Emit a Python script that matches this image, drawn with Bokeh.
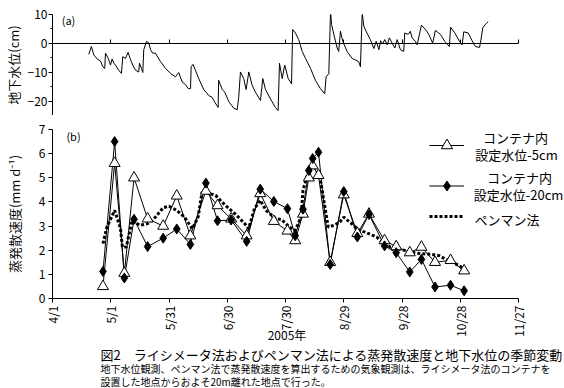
import numpy as np
from bokeh.plotting import figure
from bokeh.models import FixedTicker, Range1d, Label, Legend, LegendItem
from bokeh.layouts import column
from bokeh.embed import file_html
from bokeh.resources import INLINE

FONT = "Noto Sans CJK JP"

# x: days after 1 April 2005
tick_days = [0, 30, 60, 90, 120, 150, 180, 210, 240]
tick_labels = ["4/1", "5/1", "5/31", "6/30", "7/30", "8/29", "9/28", "10/28", "11/27"]

# (a) groundwater level (cm)
gw_day = [18.7, 20.0, 21.3, 23.0, 24.7, 25.9, 26.9, 27.3, 28.7, 29.9, 30.7, 31.6, 32.4, 34.1, 35.5,
          36.2, 37.6, 38.9, 40.2, 41.3, 42.7, 44.4, 44.8, 45.8, 46.5, 47.0, 48.4, 49.6, 50.5, 51.6,
          53.0, 55.6, 58.2, 60.8, 63.3, 65.0, 66.8, 68.5, 69.9, 71.1, 71.4, 72.4, 73.6, 75.3, 77.9,
          80.5, 82.2, 83.6, 85.3, 85.6, 87.4, 88.7, 90.8, 93.4, 95.1, 95.9, 96.8, 98.5, 99.7, 101.1,
          102.8, 104.5, 107.1, 108.3, 109.7, 112.3, 114.8, 116.2, 116.9, 118.3, 119.6, 121.4, 123.1,
          123.7, 125.1, 126.8, 128.6, 130.3, 132.9, 135.4, 138.0, 140.2, 140.9, 142.3, 143.2, 143.7,
          144.9, 146.6, 147.4, 148.3, 149.5, 151.7, 154.3, 157.7, 158.6, 159.5, 160.3, 161.5, 163.7,
          165.5, 166.7, 168.1, 169.0, 170.1, 171.1, 172.4, 173.5, 174.9, 176.3, 177.5, 179.2, 180.9,
          181.4, 183.2, 184.3, 185.2, 186.9, 187.8, 190.0, 192.1, 193.8, 195.8, 197.2, 199.8, 202.0,
          204.4, 205.0, 207.2, 209.6, 211.0, 211.8, 214.1, 216.1, 217.8, 219.9, 220.4, 221.6, 223.0,
          224.4]
gw_cm = [-3.8, -1.1, -4.0, -5.4, -6.1, -8.1, -8.7, -3.4, -5.2, -7.5, -5.4, -6.9, -7.5, -9.3, -10.4,
         -4.6, -5.2, -3.1, -5.7, -7.5, -9.3, -9.9, -6.9, -8.7, -10.1, -2.2, 0.7, 0.1, -2.2, -3.4,
         -3.4, -6.3, -8.7, -10.4, -11.6, -10.1, -13.4, -14.3, -15.7, -15.7, -8.1, -7.3, -9.3, -12.2, -16.0,
         -18.1, -18.7, -20.4, -22.2, -12.8, -16.0, -16.9, -20.2, -22.5, -23.0, -18.7, -9.9, -12.2, -16.0, -9.9,
         -14.5, -16.9, -19.8, -12.2, -16.0, -19.3, -22.2, -23.3, -6.9, -12.2, -7.5, -12.2, -14.0,
         4.8, 3.6, 1.3, -2.8, -5.2, -8.7, -12.8, -15.7, -17.5, -11.6, -10.5, 11.3, 6.6,
         3.1, -1.6, -2.8, 4.2, 0.7, -2.8, -5.2, -6.3, -8.1, 10.7, 6.0, 4.2, 1.3,
         -1.8, 0.7, -2.2, 0.9, -0.2, 1.3, -0.5, 1.9, 0.1, -1.6, 1.3, -2.2, -2.8,
         3.6, 3.1, 4.2, 1.9, 0.7, -0.5, 6.3, 4.8, 3.1, 0.1, 4.5, 3.1, 0.7,
         -1.1, 5.6, 3.6, 0.7, -0.5, 4.0, 3.6, 0.9, -1.1, -1.4, 0.1, 5.4, 6.6,
         7.5]

# (b) evapotranspiration (mm/d), lysimeter containers
obs_day = [26, 32, 37, 42, 49, 57, 64, 71, 79, 85, 92, 100, 107, 114, 121, 125, 129, 132, 134, 137,
           143, 150, 157, 163, 171, 177, 184, 190, 197, 205, 212]
et_5cm = [0.5, 5.6, 1.05, 5.0, 3.3, 3.0, 4.25, 2.6, 4.45, 3.85, 3.3, 2.6, 4.35, 3.2, 2.8, 2.4, 3.5, 5.0, 5.5, 5.1,
          1.5, 4.3, 2.7, 3.5, 2.4, 2.15, 1.9, 2.13, 1.5, 1.58, 1.15]
et_20cm = [1.12, 6.5, 0.85, 3.28, 2.15, 2.5, 2.88, 2.24, 4.78, 3.22, 3.25, 2.37, 4.53, 4.02, 3.72, 2.6, 3.7, 5.3, 5.8, 6.06,
           1.41, 4.43, 2.55, 3.48, 2.18, 1.9, 1.1, 1.62, 0.48, 0.55, 0.32]

# Penman method
pen_day = [26, 28, 30, 32, 33, 35, 36, 38, 41, 45, 49, 53, 57, 60, 64, 68, 72, 75, 77, 80, 84, 89, 94, 99,
           101, 104, 107, 110, 115, 118, 122, 125, 128, 129, 132, 134, 136, 138, 140, 142, 145, 148, 150,
           153, 158, 161, 165, 167, 171, 174, 178, 183, 187, 191, 195, 199, 202, 206, 210, 213]
pen_et = [2.27, 2.96, 3.3, 3.65, 3.4, 2.9, 2.13, 2.13, 3.24, 3.03, 3.1, 3.37, 3.76, 3.82, 3.65, 3.37, 2.89, 3.37,
          4.4, 4.37, 4.27, 3.86, 3.51, 3.1, 2.89, 3.72, 4.07, 3.65, 3.3, 3.27, 2.96, 2.82, 3.37, 4.48, 5.31,
          5.59, 5.3, 4.9, 3.93, 2.96, 3.03, 3.17, 3.37, 3.17, 2.82, 2.75, 2.61, 2.54, 2.27, 2.13, 2.06, 1.96,
          1.88, 1.85, 1.83, 1.78, 1.65, 1.51, 1.33, 1.09]

legend_texts = [("コンテナ内", "設定水位-5cm"), ("コンテナ内", "設定水位-20cm"), ("ペンマン法",)]
x_title = "2005年"
y_title_a = "地下水位(cm)"
y_title_b = "蒸発散速度(mm d⁻¹)"
caption = ["図2　ライシメータ法およびペンマン法による蒸発散速度と地下水位の季節変動",
           "地下水位観測、ペンマン法で蒸発散速度を算出するための気象観測は、ライシメータ法のコンテナを",
           "設置した地点からおよそ20m離れた地点で行った。"]

# frame 517 px wide, 240 days occupy 466 px
x_range = Range1d(0, 240 * 517 / 466)


def style_common(p):
    p.outline_line_color = None
    p.xgrid.visible = False
    p.ygrid.visible = False
    p.background_fill_color = "white"
    p.border_fill_color = "white"


def lab(p, x, y, text, size="13px", align="left"):
    p.add_layout(Label(x=x, y=y, x_units="screen", y_units="screen", text=text, text_font=FONT,
                       text_font_size=size, text_align=align, text_baseline="middle",
                       text_color="black"))


# ---------- top panel ----------
p1 = figure(frame_width=517, frame_height=101, x_range=x_range, y_range=Range1d(-25, 10),
            output_backend="svg", toolbar_location=None,
            min_border_left=47, min_border_right=0, min_border_top=14, min_border_bottom=0)
style_common(p1)
xa = p1.xaxis[0]
xa.fixed_location = 0
xa.ticker = FixedTicker(ticks=tick_days, minor_ticks=[])
xa.bounds = (0, 240)
xa.major_label_overrides = {d: "" for d in tick_days}
xa.major_label_text_font_size = "0px"
xa.major_label_standoff = 0
xa.major_tick_in = 4
xa.major_tick_out = 0
xa.axis_line_color = "black"
xa.major_tick_line_color = "black"

ya = p1.yaxis[0]
ya.ticker = FixedTicker(ticks=[-20, -10, 0, 10], minor_ticks=[-25, -15, -5, 5])
ya.major_tick_out = 4
ya.major_tick_in = 0
ya.minor_tick_out = 2
ya.minor_tick_in = 0
ya.major_label_standoff = 1
ya.major_label_text_font = FONT
ya.major_label_text_font_size = "12px"
ya.major_label_text_color = "black"
ya.axis_label = y_title_a
ya.axis_label_standoff = 2
ya.axis_label_text_font = FONT
ya.axis_label_text_font_size = "13px"
ya.axis_label_text_font_style = "normal"
ya.axis_label_text_color = "black"
ya.axis_label_text_alpha = 0.99

p1.line(gw_day, gw_cm, line_color="black", line_width=1)
lab(p1, 16, 96, "(a)", "11px", "center")

# ---------- bottom panel ----------
p2 = figure(frame_width=517, frame_height=169, x_range=x_range, y_range=Range1d(0, 7),
            output_backend="svg", toolbar_location=None,
            min_border_left=47, min_border_right=0, min_border_top=14, min_border_bottom=48)
style_common(p2)
xb = p2.xaxis[0]
xb.ticker = FixedTicker(ticks=tick_days, minor_ticks=[])
xb.bounds = (0, 240)
xb.major_label_overrides = {d: l for d, l in zip(tick_days, tick_labels)}
xb.major_label_orientation = np.pi / 2
xb.major_label_text_font = FONT
xb.major_label_text_font_size = "12px"
xb.major_label_text_color = "black"
xb.major_label_standoff = 3
xb.major_tick_out = 4
xb.major_tick_in = 0
xb.axis_line_color = "black"
# axis label is centred on the (wider) frame; trailing ideographic spaces shift it over 7/30
xb.axis_label = x_title + "\u3000" * 4
xb.axis_label_standoff = -14
xb.axis_label_text_font = FONT
xb.axis_label_text_font_size = "12px"
xb.axis_label_text_font_style = "normal"
xb.axis_label_text_color = "black"

yb = p2.yaxis[0]
yb.ticker = FixedTicker(ticks=list(range(0, 8)), minor_ticks=[])
yb.major_tick_out = 4
yb.major_tick_in = 0
yb.major_label_standoff = 3
yb.major_label_text_font = FONT
yb.major_label_text_font_size = "12px"
yb.major_label_text_color = "black"
yb.axis_label = y_title_b
yb.axis_label_standoff = 12
yb.axis_label_text_font = FONT
yb.axis_label_text_font_size = "13px"
yb.axis_label_text_font_style = "normal"
yb.axis_label_text_color = "black"
yb.axis_label_text_alpha = 0.99

l5 = p2.line(obs_day, et_5cm, line_color="black", line_width=1)
l20 = p2.line(obs_day, et_20cm, line_color="black", line_width=1)
lp = p2.line(pen_day, pen_et, line_color="black", line_width=3, line_dash="3 2")
s5 = p2.scatter(obs_day, et_5cm, marker="triangle", size=11, fill_color="white", line_color="black")
s20 = p2.scatter(obs_day, et_20cm, marker="diamond", size=10, fill_color="black", line_color="black")

common_leg = dict(padding=0, margin=0, spacing=0, label_standoff=0, label_width=0, label_height=0,
                  border_line_color=None, background_fill_alpha=0, label_text_font_size="1px",
                  glyph_width=35)
p2.add_layout(Legend(items=[LegendItem(label="", renderers=[l5, s5])], location=(378, 139),
                     glyph_height=28, **common_leg))
p2.add_layout(Legend(items=[LegendItem(label="", renderers=[l20, s20])], location=(378, 100),
                     glyph_height=25, **common_leg))
p2.add_layout(Legend(items=[LegendItem(label="", renderers=[lp])], location=(378, 77),
                     glyph_height=10, **common_leg))

lab(p2, 21, 163, "(b)", "11px", "center")
lab(p2, 463, 161, legend_texts[0][0], "13px", "center")
lab(p2, 464, 144, legend_texts[0][1], "13px", "center")
lab(p2, 467, 121, legend_texts[1][0], "13px", "center")
lab(p2, 466, 104, legend_texts[1][1], "13px", "center")
lab(p2, 422, 79, legend_texts[2][0], "13px", "left")

# ---------- caption ----------
p3 = figure(width=564, height=42, x_range=Range1d(0, 1), y_range=Range1d(0, 1),
            output_backend="svg", toolbar_location=None, min_border=0,
            x_axis_location=None, y_axis_location=None)
style_common(p3)
lab(p3, 48, 34, caption[0], "13px")
lab(p3, 48, 20, caption[1], "10px")
lab(p3, 48, 7, caption[2], "10px")

layout = column(p1, p2, p3)
open("out.html", "w").write(file_html(layout, INLINE))
